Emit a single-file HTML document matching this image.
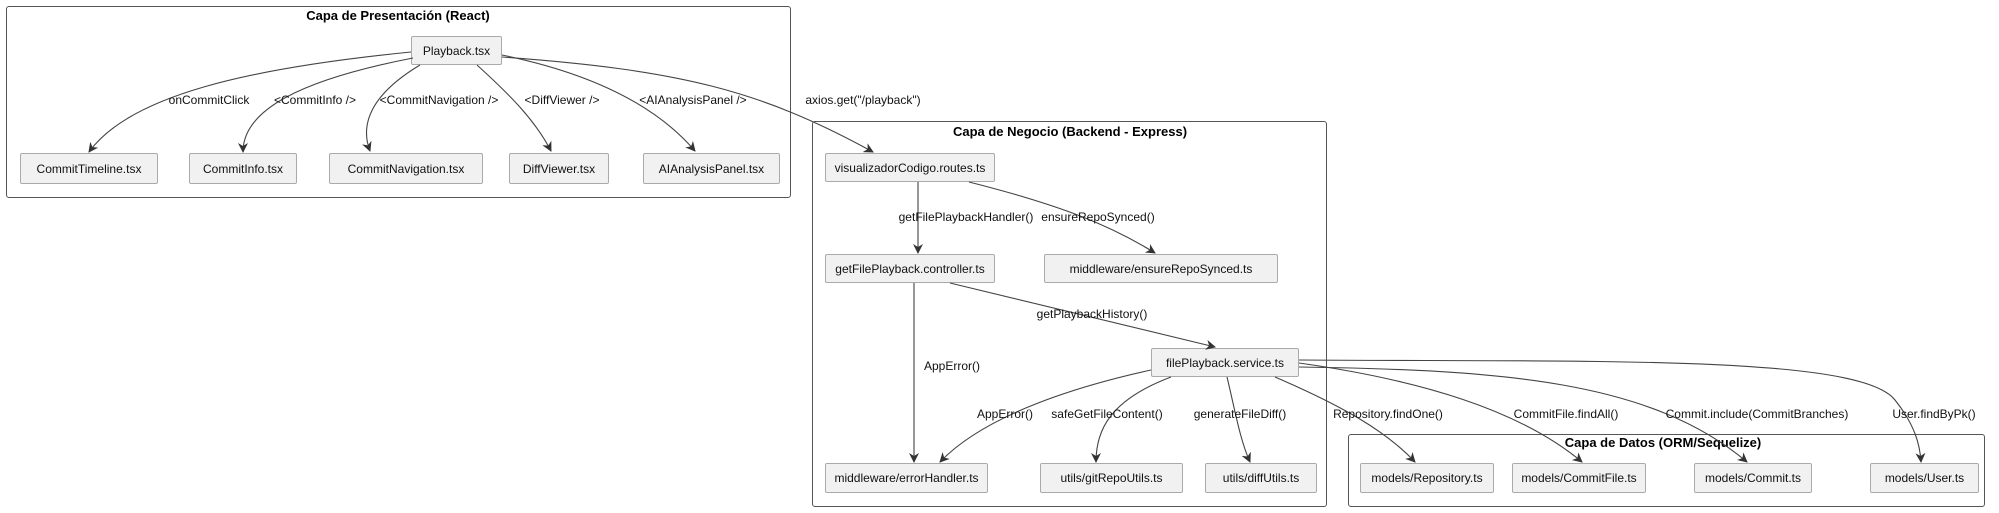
<!DOCTYPE html>
<html><head><meta charset="utf-8"><style>
body{margin:0;width:1999px;height:513px;background:#fff;position:relative;overflow:hidden;font-family:"Liberation Sans",sans-serif}
.box{position:absolute;border:1.5px solid #555;border-radius:3px;box-sizing:border-box}
.t{position:absolute;font-weight:bold;font-size:13px;color:#000;transform:translateX(-50%);white-space:nowrap}
.n{position:absolute;background:#f1f1f1;border:1px solid #aaa;border-radius:2px;box-sizing:border-box;font-size:12px;display:flex;align-items:center;justify-content:center;color:#111;white-space:nowrap}
.l{position:absolute;font-size:12px;color:#111;white-space:nowrap;transform:translateX(-50%)}
svg{position:absolute;left:0;top:0}
</style></head><body>
<div class="box" style="left:6px;top:6px;width:785px;height:192px"></div>
<div class="t" style="left:398px;top:8px">Capa de Presentación (React)</div>
<div class="box" style="left:812px;top:121px;width:515px;height:386px"></div>
<div class="t" style="left:1070px;top:124px">Capa de Negocio (Backend - Express)</div>
<div class="box" style="left:1348px;top:434px;width:637px;height:73px"></div>
<div class="t" style="left:1663px;top:435px">Capa de Datos (ORM/Sequelize)</div>

<div class="n" style="left:411px;top:36px;width:91px;height:29px">Playback.tsx</div>
<div class="n" style="left:20px;top:153px;width:138px;height:31px">CommitTimeline.tsx</div>
<div class="n" style="left:189px;top:153px;width:108px;height:31px">CommitInfo.tsx</div>
<div class="n" style="left:329px;top:153px;width:154px;height:31px">CommitNavigation.tsx</div>
<div class="n" style="left:509px;top:153px;width:100px;height:31px">DiffViewer.tsx</div>
<div class="n" style="left:643px;top:153px;width:137px;height:31px">AIAnalysisPanel.tsx</div>

<div class="n" style="left:825px;top:153px;width:170px;height:29px">visualizadorCodigo.routes.ts</div>
<div class="n" style="left:825px;top:254px;width:170px;height:29px">getFilePlayback.controller.ts</div>
<div class="n" style="left:1044px;top:254px;width:234px;height:29px">middleware/ensureRepoSynced.ts</div>
<div class="n" style="left:1151px;top:348px;width:148px;height:29px">filePlayback.service.ts</div>
<div class="n" style="left:825px;top:463px;width:163px;height:30px">middleware/errorHandler.ts</div>
<div class="n" style="left:1040px;top:463px;width:143px;height:30px">utils/gitRepoUtils.ts</div>
<div class="n" style="left:1205px;top:463px;width:112px;height:30px">utils/diffUtils.ts</div>

<div class="n" style="left:1360px;top:463px;width:134px;height:30px">models/Repository.ts</div>
<div class="n" style="left:1512px;top:463px;width:134px;height:30px">models/CommitFile.ts</div>
<div class="n" style="left:1694px;top:463px;width:118px;height:30px">models/Commit.ts</div>
<div class="n" style="left:1870px;top:463px;width:109px;height:30px">models/User.ts</div>

<svg width="1999" height="513">
<defs><marker id="a" markerWidth="10" markerHeight="10" refX="9" refY="5" orient="auto" markerUnits="userSpaceOnUse"><path d="M0,0 L10,5 L0,10 L3,5 z" fill="#333"/></marker></defs>
<g fill="none" stroke="#444" stroke-width="1.1" marker-end="url(#a)">
<path d="M411,52 C250,68 130,95 89,152"/>
<path d="M413,58 C300,80 243,110 243,152"/>
<path d="M420,65 C370,95 360,125 370,151"/>
<path d="M477,65 C510,95 535,120 551,151"/>
<path d="M502,55 C600,75 660,110 695,151"/>
<path d="M502,57 C680,70 760,90 873,152"/>
<path d="M918,182 L918,253"/>
<path d="M969,182 C1060,205 1110,225 1155,253"/>
<path d="M950,283 L1215,347"/>
<path d="M914,283 L914,462"/>
<path d="M1151,370 C1060,390 980,420 940,462"/>
<path d="M1171,377 C1110,400 1096,430 1096,462"/>
<path d="M1227,377 C1235,410 1240,440 1250,462"/>
<path d="M1275,377 C1340,405 1385,430 1415,462"/>
<path d="M1299,363 C1420,380 1520,410 1582,462"/>
<path d="M1299,367 C1500,370 1650,380 1747,462"/>
<path d="M1299,360 C1600,362 1860,355 1895,400 C1915,425 1920,445 1921,462"/>
</g>
</svg>

<div class="l" style="left:209px;top:93px">onCommitClick</div>
<div class="l" style="left:315px;top:93px">&lt;CommitInfo /&gt;</div>
<div class="l" style="left:439px;top:93px">&lt;CommitNavigation /&gt;</div>
<div class="l" style="left:562px;top:93px">&lt;DiffViewer /&gt;</div>
<div class="l" style="left:693px;top:93px">&lt;AIAnalysisPanel /&gt;</div>
<div class="l" style="left:863px;top:93px">axios.get("/playback")</div>
<div class="l" style="left:966px;top:210px">getFilePlaybackHandler()</div>
<div class="l" style="left:1098px;top:210px">ensureRepoSynced()</div>
<div class="l" style="left:1092px;top:307px">getPlaybackHistory()</div>
<div class="l" style="left:952px;top:359px">AppError()</div>
<div class="l" style="left:1005px;top:407px">AppError()</div>
<div class="l" style="left:1107px;top:407px">safeGetFileContent()</div>
<div class="l" style="left:1240px;top:407px">generateFileDiff()</div>
<div class="l" style="left:1388px;top:407px">Repository.findOne()</div>
<div class="l" style="left:1566px;top:407px">CommitFile.findAll()</div>
<div class="l" style="left:1757px;top:407px">Commit.include(CommitBranches)</div>
<div class="l" style="left:1934px;top:407px">User.findByPk()</div>
</body></html>
